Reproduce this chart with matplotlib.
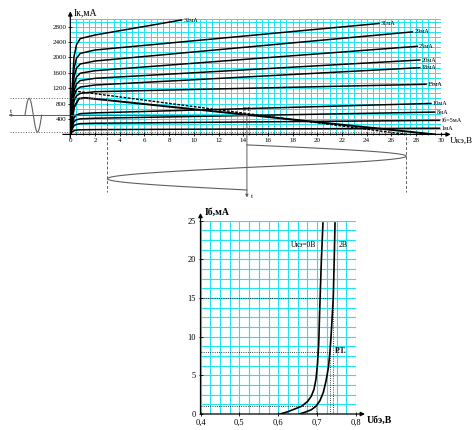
import numpy as np
import matplotlib.pyplot as plt

plt.rcParams['font.family'] = ['Liberation Serif', 'DejaVu Serif']

# output characteristics Ik(Uke), one curve per base current
curve_names = ['32мА', '31мА', '29мА', '25мА', '20мА', '18мА', '15мА', '10мА', '8мА', 'Iб=5мА', '1мА']
knee_u = [0, 0.15, 0.3, 0.5, 0.8, 2.0]
knee_ik = [
    [0, 1200, 2020, 2330, 2490, 2584],
    [0, 1000, 1710, 1975, 2105, 2194],
    [0, 880, 1490, 1720, 1830, 1908],
    [0, 760, 1290, 1490, 1590, 1656],
    [0, 670, 1140, 1310, 1400, 1458],
    [0, 590, 1000, 1155, 1230, 1284],
    [0, 510, 865, 1000, 1065, 1110],
    [0, 260, 435, 505, 540, 560],
    [0, 195, 330, 380, 405, 420],
    [0, 135, 225, 260, 280, 290],
    [0, 60, 97, 112, 120, 125],
]
end_u = [9.0, 25.0, 27.7, 28.1, 28.3, 28.3, 28.8, 29.2, 29.5, 29.9, 29.9]
end_ik = [2974, 2884, 2665, 2290, 1934, 1734, 1303, 805, 580, 365, 160]

# load lines
load_u = [0, 0.3, 0.7, 1.2, 29.5]
load_ik = [0, 700, 930, 950, 0]
ac_u = [0.3, 27.2]
ac_ik = [1130, 0]

# working point and swing
pt_u, pt_ik = 14.3, 500
ik_hi, ik_lo = 940, 60
u_lo, u_hi = 3.0, 27.2

# input characteristics Ib(Ube)
in0_u = [0.605, 0.625, 0.645, 0.66, 0.675, 0.685, 0.692, 0.697, 0.701, 0.704, 0.707, 0.711, 0.715]
in0_ib = [0, 0.3, 0.7, 1.0, 1.6, 2.3, 3.2, 4.5, 6.5, 9, 14, 20, 24.7]
in2_u = [0.6545, 0.67, 0.685, 0.697, 0.707, 0.716, 0.723, 0.729, 0.733, 0.737, 0.7415, 0.744, 0.746]
in2_ib = [0, 0.25, 0.55, 1.0, 1.7, 2.8, 4.3, 6, 8, 11, 15, 20, 24.7]
ib_lo, ib_pt, ib_hi = 1, 8, 15
ube_lo, ube_pt, ube_hi = 0.697, 0.733, 0.7415

W, H = 473, 430
fig = plt.figure(figsize=(W / 100, H / 100), dpi=100)
grid_c = '#22e4f0'
gray = '#606060'
arr = dict(arrowstyle='-|>', lw=0.9, color='k', mutation_scale=6, shrinkA=0, shrinkB=0)

# ---------------- output characteristics
ax = fig.add_axes([70.3 / W, 1 - 134.4 / H, 370.5 / W, 115.4 / H])
ax.set_xlim(0, 30)
ax.set_ylim(0, 3000)
for s in ax.spines.values():
    s.set_visible(False)
ax.vlines(np.arange(0, 30.01, 0.5), 0, 3000, color=grid_c, lw=0.7, zorder=0)
ax.hlines(np.arange(0, 3001, 400 / 3), 0, 30, color=grid_c, lw=0.7, zorder=0)
ax.hlines(3000, 0, 30, color=grid_c, lw=0.7, zorder=0)
ax.set_xticks(np.arange(0, 31, 2))
ax.set_xticks(np.arange(0, 30.01, 0.5), minor=True)
ax.set_yticks(np.arange(400, 2801, 400))
ax.tick_params(which='major', labelsize=5, length=2.5, width=0.6, pad=1.5, direction='inout')
ax.tick_params(which='minor', length=1.5, width=0.5, direction='inout')

ax.annotate('', xy=(0, 3200), xytext=(0, -100), arrowprops=arr, annotation_clip=False)
ax.annotate('', xy=(30.8, 0), xytext=(-0.6, 0), arrowprops=arr, annotation_clip=False)
ax.text(0.3, 3160, 'Iк,мА', fontsize=7, va='center')
ax.text(30.75, -170, 'Uкэ,В', fontsize=6.5, va='center')

for name, ik, ue, ie in zip(curve_names, knee_ik, end_u, end_ik):
    ax.plot(knee_u + [ue], ik + [ie], color='k', lw=1.1)
    ax.text(ue + 0.15, ie, name, fontsize=4.5, va='center')

ax.plot(load_u, load_ik, color='k', lw=1.4)
ax.plot(ac_u, ac_ik, color='k', lw=1.0, ls='--', dashes=(2, 1))
ax.text(pt_u, pt_ik + 110, 'Р.Т.', fontsize=4.5, ha='center')

# current swing (left)
ax.plot([-4.9, pt_u], [pt_ik, pt_ik], color=gray, lw=0.7, clip_on=False)
ax.plot([-4.9, u_lo], [ik_hi, ik_hi], color=gray, lw=0.7, ls=':', clip_on=False)
ax.plot([-4.9, u_hi], [ik_lo, ik_lo], color=gray, lw=0.7, ls=':', clip_on=False)
ax.annotate('', xy=(-5.0, pt_ik), xytext=(-4.6, pt_ik), arrowprops=dict(arr, lw=0.6, color=gray, mutation_scale=4), annotation_clip=False)
ax.text(-4.85, pt_ik + 40, 't', fontsize=5, va='bottom')
s = np.linspace(0, 1, 120)
sw = np.sin(2 * np.pi * s)
ax.plot(-3.67 + 1.35 * s, pt_ik + np.where(sw > 0, ik_hi - pt_ik, pt_ik - ik_lo) * sw,
        color=gray, lw=0.8, clip_on=False)

# voltage swing (below)
ax.plot([u_lo, u_lo], [ik_hi, -1490], color=gray, lw=0.7, ls='--', dashes=(3, 2), clip_on=False)
ax.plot([u_hi, u_hi], [ik_lo, -1490], color=gray, lw=0.7, ls='--', dashes=(3, 2), clip_on=False)
ax.annotate('', xy=(pt_u, -1640), xytext=(pt_u, pt_ik), arrowprops=dict(arr, lw=0.7, color=gray, mutation_scale=4), annotation_clip=False)
ax.text(pt_u + 0.3, -1620, 't', fontsize=5, va='center')
ax.plot(pt_u + np.where(sw > 0, u_hi - pt_u, pt_u - u_lo) * sw, -273 - 1172 * s,
        color=gray, lw=0.8, clip_on=False)

# ---------------- input characteristics
ax2 = fig.add_axes([200.5 / W, 1 - 414 / H, 155.5 / W, 193.3 / H])
ax2.set_xlim(0.4, 0.8)
ax2.set_ylim(0, 25)
for s2 in ax2.spines.values():
    s2.set_visible(False)
ax2.vlines(np.linspace(0.4, 0.8, 17), 0, 25, color=grid_c, lw=0.8, zorder=0)
ax2.hlines(np.linspace(0, 25, 21), 0.4, 0.8, color=grid_c, lw=0.8, zorder=0)
ax2.set_xticks([0.4, 0.5, 0.6, 0.7, 0.8])
ax2.set_xticklabels(['0,4', '0,5', '0,6', '0,7', '0,8'])
ax2.set_yticks([0, 5, 10, 15, 20, 25])
ax2.tick_params(which='major', labelsize=6, length=2.5, width=0.6, pad=2, direction='inout')

ax2.annotate('', xy=(0.4, 26.0), xytext=(0.4, 0), arrowprops=arr, annotation_clip=False)
ax2.annotate('', xy=(0.823, 0), xytext=(0.4, 0), arrowprops=arr, annotation_clip=False)
ax2.text(0.411, 26.1, 'Iб,мА', fontsize=7, fontweight='bold', va='center')
ax2.text(0.828, -0.8, 'Uбэ,В', fontsize=7, fontweight='bold', va='center')

dot = dict(color='k', lw=0.6, ls=':')
ax2.plot([0.4, ube_lo, ube_lo], [ib_lo, ib_lo, 0], **dot)
ax2.plot([0.4, ube_pt, ube_pt], [ib_pt, ib_pt, 0], **dot)
ax2.plot([0.4, ube_hi, ube_hi], [ib_hi, ib_hi, 0], **dot)

ax2.plot(in0_u, in0_ib, color='k', lw=1.2)
ax2.plot(in2_u, in2_ib, color='k', lw=1.2)
ax2.text(0.666, 21.9, 'Uкэ=0В', fontsize=5.5, ha='center', va='center')
ax2.text(0.755, 21.9, '2В', fontsize=5.5, va='center')
ax2.text(0.7466, 8.1, 'Р.Т.', fontsize=5.5, fontweight='bold', va='center')

fig.savefig('out.png', dpi=100)
